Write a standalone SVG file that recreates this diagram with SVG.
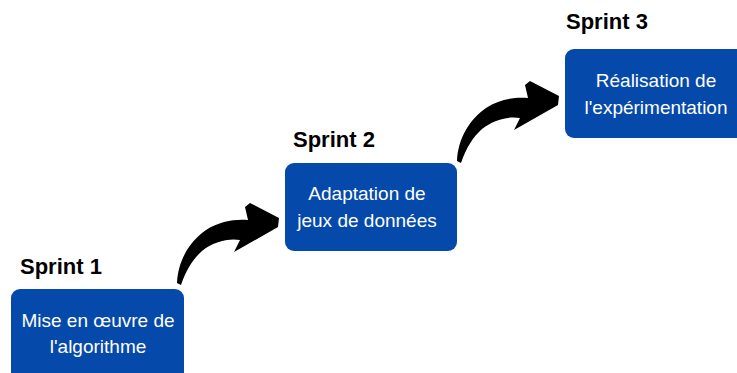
<svg xmlns="http://www.w3.org/2000/svg" xmlns:xlink="http://www.w3.org/1999/xlink" width="737" height="373" viewBox="0 0 737 373">
  <style>
    .box { fill: #0549aa; }
    .lbl { font-family: "Liberation Sans", Arial, sans-serif; font-size: 19px; fill: #ffffff; text-anchor: middle; }
    .title { font-family: "Liberation Sans", Arial, sans-serif; font-size: 22px; font-weight: bold; fill: #000000; }
    .arrow { fill: #000000; }
  </style>
  <defs>
    <!-- tapered curved arrow, tail at bottom-left, head pointing right -->
    <path id="curvedArrow" d="M177,283 C178,260 190,241 206,230 C220,221 235,219 248,220 L245,207 L250,203 L279,218 L278,227 L234,252 L240,240 C228,238 213,242 202,251 C193,259 186,270 181,285 Z"/>
  </defs>
  <rect width="737" height="373" fill="#ffffff"/>

  <g id="connectors" class="arrow">
    <use xlink:href="#curvedArrow"/>
    <use xlink:href="#curvedArrow" transform="translate(280,-122)"/>
  </g>

  <g id="sprint1">
    <text class="title" x="20" y="274">Sprint 1</text>
    <rect class="box" x="11" y="289" width="173" height="100" rx="9"/>
    <text class="lbl" x="98" y="327">Mise en œuvre de</text>
    <text class="lbl" x="98" y="353">l'algorithme</text>
  </g>

  <g id="sprint2">
    <text class="title" x="293" y="147">Sprint 2</text>
    <rect class="box" x="285" y="163" width="172" height="88" rx="9"/>
    <text class="lbl" x="367" y="200">Adaptation de</text>
    <text class="lbl" x="367" y="227">jeux de données</text>
  </g>

  <g id="sprint3">
    <text class="title" x="566" y="29">Sprint 3</text>
    <rect class="box" x="565" y="49" width="185" height="89" rx="9"/>
    <text class="lbl" x="656" y="87">Réalisation de</text>
    <text class="lbl" x="656" y="114">l'expérimentation</text>
  </g>
</svg>
